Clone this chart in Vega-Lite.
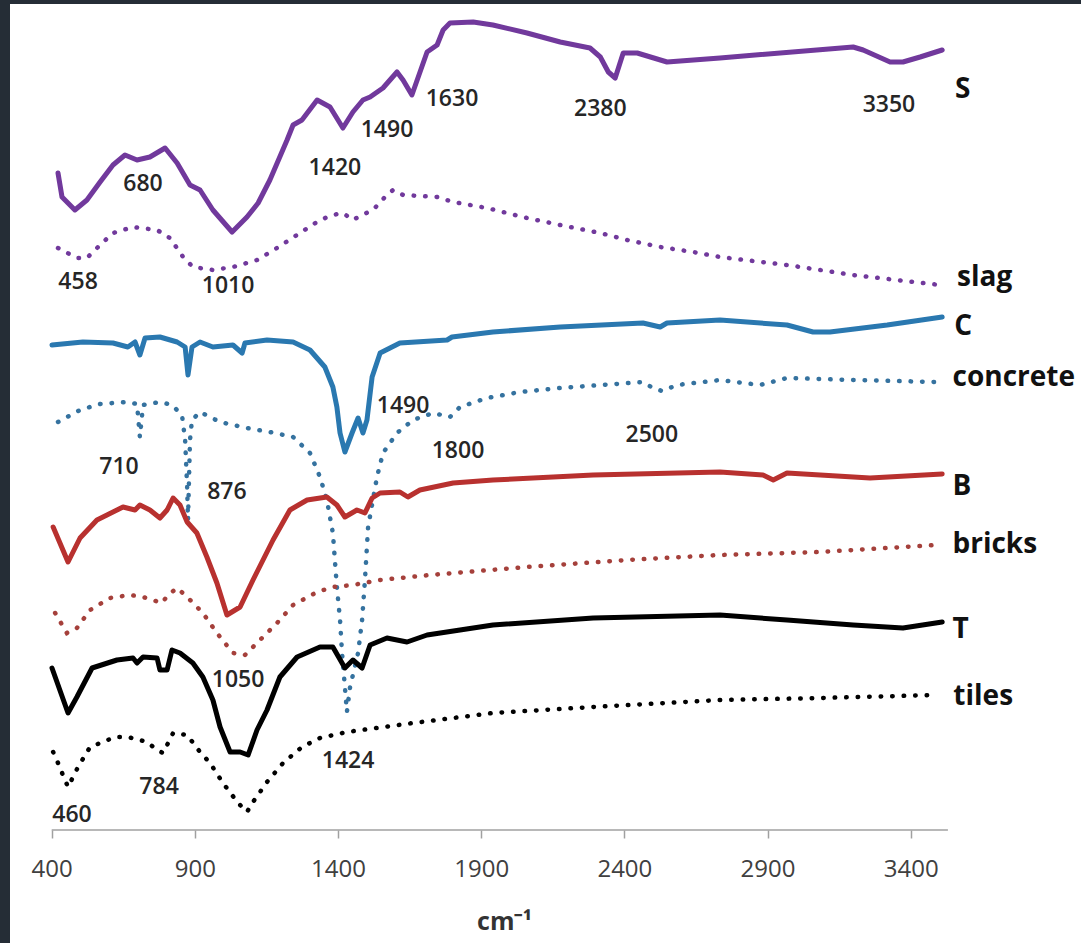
{
  "$schema": "https://vega.github.io/schema/vega-lite/v6.json",
  "width": 1081,
  "height": 943,
  "autosize": {"type": "fit", "contains": "padding"},
  "padding": {"left": 10, "top": 4, "right": 0, "bottom": 0},
  "background": "#252d36",
  "config": {"view": {"fill": "white", "stroke": null}, "font": "Open Sans"},
  "datasets": {
    "axisline": [{"x": 400, "x2": 3530, "y": 113}],
    "spectra": [
      {"s":"S","x":422,"y":770},{"s":"S","x":436,"y":746},{"s":"S","x":481,"y":733},{"s":"S","x":523,"y":743},{"s":"S","x":569,"y":761},{"s":"S","x":614,"y":778},{"s":"S","x":656,"y":788},{"s":"S","x":698,"y":783},{"s":"S","x":743,"y":786},{"s":"S","x":796,"y":795},{"s":"S","x":838,"y":780},{"s":"S","x":883,"y":758},{"s":"S","x":918,"y":753},{"s":"S","x":963,"y":733},{"s":"S","x":1030,"y":711},{"s":"S","x":1082,"y":726},{"s":"S","x":1121,"y":740},{"s":"S","x":1162,"y":763},{"s":"S","x":1222,"y":803},{"s":"S","x":1243,"y":818},{"s":"S","x":1274,"y":823},{"s":"S","x":1327,"y":843},{"s":"S","x":1372,"y":836},{"s":"S","x":1417,"y":815},{"s":"S","x":1452,"y":831},{"s":"S","x":1487,"y":843},{"s":"S","x":1512,"y":846},{"s":"S","x":1557,"y":855},{"s":"S","x":1606,"y":871},{"s":"S","x":1627,"y":863},{"s":"S","x":1658,"y":848},{"s":"S","x":1711,"y":891},{"s":"S","x":1746,"y":898},{"s":"S","x":1767,"y":913},{"s":"S","x":1791,"y":920},{"s":"S","x":1872,"y":921},{"s":"S","x":1941,"y":918},{"s":"S","x":2060,"y":910},{"s":"S","x":2176,"y":901},{"s":"S","x":2280,"y":895},{"s":"S","x":2316,"y":886},{"s":"S","x":2344,"y":871},{"s":"S","x":2368,"y":865},{"s":"S","x":2396,"y":890},{"s":"S","x":2445,"y":890},{"s":"S","x":2549,"y":881},{"s":"S","x":2734,"y":885},{"s":"S","x":3199,"y":896},{"s":"S","x":3234,"y":893},{"s":"S","x":3328,"y":881},{"s":"S","x":3373,"y":881},{"s":"S","x":3433,"y":886},{"s":"S","x":3510,"y":893},
      {"s":"slag","x":422,"y":695},{"s":"slag","x":488,"y":685},{"s":"slag","x":523,"y":685},{"s":"slag","x":569,"y":698},{"s":"slag","x":614,"y":710},{"s":"slag","x":684,"y":716},{"s":"slag","x":768,"y":713},{"s":"slag","x":813,"y":705},{"s":"slag","x":859,"y":686},{"s":"slag","x":893,"y":676},{"s":"slag","x":963,"y":673},{"s":"slag","x":1033,"y":676},{"s":"slag","x":1117,"y":683},{"s":"slag","x":1187,"y":695},{"s":"slag","x":1267,"y":710},{"s":"slag","x":1337,"y":723},{"s":"slag","x":1382,"y":728},{"s":"slag","x":1417,"y":730},{"s":"slag","x":1452,"y":723},{"s":"slag","x":1477,"y":727},{"s":"slag","x":1522,"y":733},{"s":"slag","x":1564,"y":746},{"s":"slag","x":1592,"y":753},{"s":"slag","x":1627,"y":748},{"s":"slag","x":1746,"y":746},{"s":"slag","x":1802,"y":741},{"s":"slag","x":1920,"y":735},{"s":"slag","x":2060,"y":725},{"s":"slag","x":2176,"y":718},{"s":"slag","x":2316,"y":710},{"s":"slag","x":2410,"y":703},{"s":"slag","x":2525,"y":696},{"s":"slag","x":2640,"y":691},{"s":"slag","x":2734,"y":686},{"s":"slag","x":2968,"y":678},{"s":"slag","x":3199,"y":668},{"s":"slag","x":3503,"y":658},
      {"s":"C","x":401,"y":598},{"s":"C","x":509,"y":601},{"s":"C","x":614,"y":600},{"s":"C","x":666,"y":596},{"s":"C","x":691,"y":601},{"s":"C","x":708,"y":588},{"s":"C","x":726,"y":605},{"s":"C","x":778,"y":606},{"s":"C","x":838,"y":601},{"s":"C","x":866,"y":596},{"s":"C","x":876,"y":568},{"s":"C","x":890,"y":596},{"s":"C","x":918,"y":601},{"s":"C","x":963,"y":596},{"s":"C","x":1033,"y":598},{"s":"C","x":1065,"y":590},{"s":"C","x":1075,"y":600},{"s":"C","x":1152,"y":603},{"s":"C","x":1243,"y":601},{"s":"C","x":1302,"y":593},{"s":"C","x":1354,"y":576},{"s":"C","x":1382,"y":556},{"s":"C","x":1396,"y":536},{"s":"C","x":1407,"y":510},{"s":"C","x":1424,"y":491},{"s":"C","x":1449,"y":510},{"s":"C","x":1470,"y":525},{"s":"C","x":1487,"y":510},{"s":"C","x":1501,"y":523},{"s":"C","x":1519,"y":566},{"s":"C","x":1547,"y":590},{"s":"C","x":1616,"y":600},{"s":"C","x":1781,"y":603},{"s":"C","x":1798,"y":606},{"s":"C","x":1941,"y":611},{"s":"C","x":2176,"y":616},{"s":"C","x":2465,"y":620},{"s":"C","x":2525,"y":616},{"s":"C","x":2549,"y":620},{"s":"C","x":2734,"y":623},{"s":"C","x":2968,"y":618},{"s":"C","x":3059,"y":611},{"s":"C","x":3118,"y":611},{"s":"C","x":3318,"y":618},{"s":"C","x":3510,"y":626},
      {"s":"concrete","x":422,"y":521},{"s":"concrete","x":499,"y":533},{"s":"concrete","x":569,"y":539},{"s":"concrete","x":663,"y":541},{"s":"concrete","x":698,"y":539},{"s":"concrete","x":708,"y":506},{"s":"concrete","x":719,"y":538},{"s":"concrete","x":778,"y":541},{"s":"concrete","x":820,"y":538},{"s":"concrete","x":855,"y":528},{"s":"concrete","x":866,"y":503},{"s":"concrete","x":873,"y":456},{"s":"concrete","x":876,"y":423},{"s":"concrete","x":883,"y":503},{"s":"concrete","x":890,"y":523},{"s":"concrete","x":918,"y":531},{"s":"concrete","x":988,"y":521},{"s":"concrete","x":1082,"y":515},{"s":"concrete","x":1162,"y":511},{"s":"concrete","x":1243,"y":506},{"s":"concrete","x":1302,"y":490},{"s":"concrete","x":1337,"y":466},{"s":"concrete","x":1361,"y":443},{"s":"concrete","x":1382,"y":410},{"s":"concrete","x":1396,"y":356},{"s":"concrete","x":1407,"y":323},{"s":"concrete","x":1414,"y":290},{"s":"concrete","x":1424,"y":256},{"s":"concrete","x":1431,"y":231},{"s":"concrete","x":1442,"y":256},{"s":"concrete","x":1470,"y":290},{"s":"concrete","x":1484,"y":323},{"s":"concrete","x":1494,"y":363},{"s":"concrete","x":1505,"y":416},{"s":"concrete","x":1536,"y":466},{"s":"concrete","x":1557,"y":490},{"s":"concrete","x":1606,"y":510},{"s":"concrete","x":1662,"y":523},{"s":"concrete","x":1732,"y":530},{"s":"concrete","x":1791,"y":526},{"s":"concrete","x":1826,"y":536},{"s":"concrete","x":1920,"y":545},{"s":"concrete","x":2036,"y":551},{"s":"concrete","x":2176,"y":555},{"s":"concrete","x":2465,"y":561},{"s":"concrete","x":2500,"y":555},{"s":"concrete","x":2532,"y":552},{"s":"concrete","x":2584,"y":558},{"s":"concrete","x":2734,"y":563},{"s":"concrete","x":2874,"y":558},{"s":"concrete","x":2968,"y":565},{"s":"concrete","x":3199,"y":563},{"s":"concrete","x":3492,"y":561},
      {"s":"B","x":405,"y":416},{"s":"B","x":457,"y":381},{"s":"B","x":499,"y":405},{"s":"B","x":558,"y":423},{"s":"B","x":649,"y":436},{"s":"B","x":691,"y":433},{"s":"B","x":708,"y":438},{"s":"B","x":743,"y":433},{"s":"B","x":778,"y":425},{"s":"B","x":803,"y":433},{"s":"B","x":824,"y":445},{"s":"B","x":848,"y":438},{"s":"B","x":873,"y":421},{"s":"B","x":907,"y":410},{"s":"B","x":942,"y":386},{"s":"B","x":977,"y":360},{"s":"B","x":1012,"y":328},{"s":"B","x":1058,"y":336},{"s":"B","x":1103,"y":363},{"s":"B","x":1173,"y":403},{"s":"B","x":1232,"y":433},{"s":"B","x":1292,"y":443},{"s":"B","x":1361,"y":446},{"s":"B","x":1396,"y":438},{"s":"B","x":1424,"y":426},{"s":"B","x":1466,"y":433},{"s":"B","x":1494,"y":430},{"s":"B","x":1519,"y":445},{"s":"B","x":1547,"y":450},{"s":"B","x":1616,"y":451},{"s":"B","x":1644,"y":446},{"s":"B","x":1686,"y":453},{"s":"B","x":1802,"y":460},{"s":"B","x":1941,"y":463},{"s":"B","x":2291,"y":468},{"s":"B","x":2734,"y":471},{"s":"B","x":2884,"y":468},{"s":"B","x":2920,"y":463},{"s":"B","x":2968,"y":470},{"s":"B","x":3258,"y":465},{"s":"B","x":3510,"y":469},
      {"s":"bricks","x":412,"y":330},{"s":"bricks","x":453,"y":310},{"s":"bricks","x":488,"y":315},{"s":"bricks","x":534,"y":333},{"s":"bricks","x":604,"y":345},{"s":"bricks","x":673,"y":348},{"s":"bricks","x":719,"y":346},{"s":"bricks","x":785,"y":340},{"s":"bricks","x":806,"y":348},{"s":"bricks","x":838,"y":355},{"s":"bricks","x":873,"y":346},{"s":"bricks","x":928,"y":330},{"s":"bricks","x":977,"y":310},{"s":"bricks","x":1033,"y":290},{"s":"bricks","x":1075,"y":288},{"s":"bricks","x":1117,"y":300},{"s":"bricks","x":1187,"y":320},{"s":"bricks","x":1243,"y":338},{"s":"bricks","x":1327,"y":351},{"s":"bricks","x":1382,"y":356},{"s":"bricks","x":1452,"y":358},{"s":"bricks","x":1547,"y":363},{"s":"bricks","x":1721,"y":368},{"s":"bricks","x":2060,"y":376},{"s":"bricks","x":2410,"y":383},{"s":"bricks","x":2734,"y":388},{"s":"bricks","x":3083,"y":391},{"s":"bricks","x":3492,"y":398},
      {"s":"T","x":401,"y":275},{"s":"T","x":457,"y":230},{"s":"T","x":488,"y":246},{"s":"T","x":541,"y":275},{"s":"T","x":628,"y":283},{"s":"T","x":684,"y":285},{"s":"T","x":698,"y":280},{"s":"T","x":719,"y":286},{"s":"T","x":768,"y":285},{"s":"T","x":778,"y":273},{"s":"T","x":803,"y":273},{"s":"T","x":820,"y":293},{"s":"T","x":848,"y":290},{"s":"T","x":893,"y":280},{"s":"T","x":928,"y":266},{"s":"T","x":963,"y":243},{"s":"T","x":988,"y":216},{"s":"T","x":1023,"y":191},{"s":"T","x":1058,"y":191},{"s":"T","x":1086,"y":188},{"s":"T","x":1117,"y":213},{"s":"T","x":1152,"y":233},{"s":"T","x":1197,"y":266},{"s":"T","x":1257,"y":286},{"s":"T","x":1337,"y":296},{"s":"T","x":1382,"y":296},{"s":"T","x":1424,"y":275},{"s":"T","x":1452,"y":283},{"s":"T","x":1484,"y":275},{"s":"T","x":1512,"y":298},{"s":"T","x":1571,"y":305},{"s":"T","x":1641,"y":301},{"s":"T","x":1711,"y":308},{"s":"T","x":1941,"y":318},{"s":"T","x":2291,"y":325},{"s":"T","x":2734,"y":328},{"s":"T","x":2968,"y":323},{"s":"T","x":3199,"y":318},{"s":"T","x":3373,"y":315},{"s":"T","x":3510,"y":321},
      {"s":"tiles","x":405,"y":191},{"s":"tiles","x":422,"y":180},{"s":"tiles","x":439,"y":168},{"s":"tiles","x":457,"y":156},{"s":"tiles","x":492,"y":176},{"s":"tiles","x":534,"y":196},{"s":"tiles","x":579,"y":201},{"s":"tiles","x":621,"y":206},{"s":"tiles","x":666,"y":206},{"s":"tiles","x":733,"y":201},{"s":"tiles","x":768,"y":193},{"s":"tiles","x":789,"y":190},{"s":"tiles","x":824,"y":210},{"s":"tiles","x":873,"y":208},{"s":"tiles","x":918,"y":191},{"s":"tiles","x":953,"y":180},{"s":"tiles","x":998,"y":160},{"s":"tiles","x":1051,"y":140},{"s":"tiles","x":1082,"y":131},{"s":"tiles","x":1103,"y":141},{"s":"tiles","x":1152,"y":161},{"s":"tiles","x":1208,"y":180},{"s":"tiles","x":1274,"y":196},{"s":"tiles","x":1337,"y":205},{"s":"tiles","x":1431,"y":211},{"s":"tiles","x":1662,"y":220},{"s":"tiles","x":1941,"y":230},{"s":"tiles","x":2291,"y":236},{"s":"tiles","x":2734,"y":243},{"s":"tiles","x":3083,"y":245},{"s":"tiles","x":3492,"y":248}
    ],
    "peaks": [
      {"t":"680","x":719,"y":759},{"t":"458","x":492,"y":661},{"t":"1010","x":1016,"y":657},{"t":"1420","x":1389,"y":775},{"t":"1490","x":1571,"y":813},{"t":"1630","x":1798,"y":844},{"t":"2380","x":2316,"y":834},{"t":"3350","x":3324,"y":838},
      {"t":"710","x":635,"y":476},{"t":"876","x":1012,"y":451},{"t":"1490","x":1627,"y":537},{"t":"1800","x":1819,"y":492},{"t":"2500","x":2496,"y":508},
      {"t":"1050","x":1051,"y":263},{"t":"1424","x":1435,"y":182},{"t":"784","x":775,"y":156},{"t":"460","x":471,"y":128}
    ],
    "names": [
      {"t":"S","x":3555,"y":853},{"t":"slag","x":3562,"y":665},{"t":"C","x":3552,"y":616},{"t":"concrete","x":3546,"y":565},
      {"t":"B","x":3546,"y":456},{"t":"bricks","x":3546,"y":398},{"t":"T","x":3546,"y":313},{"t":"tiles","x":3549,"y":246}
    ]
  },
  "encoding": {
    "x": {
      "field": "x", "type": "quantitative",
      "scale": {"domain": [254.36, 3994.8], "nice": false, "zero": false},
      "axis": {
        "values": [400, 900, 1400, 1900, 2400, 2900, 3400], "format": "d",
        "offset": -113, "domain": false, "grid": false,
        "tickSize": 8, "tickColor": "#a0a0a0", "tickWidth": 1.5,
        "labelFontSize": 24, "labelColor": "#404040", "labelPadding": 19, "labelFont": "Open Sans",
        "labelOverlap": false, "labelFlush": false,
        "title": "cm⁻¹", "titleFontSize": 25, "titleFontWeight": "bold", "titleColor": "#333333", "titleFont": "Open Sans",
        "titleX": 494, "titleY": 99, "titleBaseline": "alphabetic", "titleAlign": "center", "titleAnchor": null
      }
    },
    "y": {"field": "y", "type": "quantitative", "scale": {"domain": [0, 939], "nice": false, "zero": false}, "axis": null}
  },
  "layer": [
    {
      "data": {"name": "axisline"},
      "mark": {"type": "rule", "color": "#a0a0a0", "strokeWidth": 1.5},
      "encoding": {"x2": {"field": "x2"}}
    },
    {
      "data": {"name": "spectra"},
      "transform": [{"filter": {"field": "s", "oneOf": ["slag", "concrete", "bricks", "tiles"]}}],
      "mark": {"type": "line", "strokeWidth": 4.5, "strokeDash": [0.5, 11], "strokeCap": "round"},
      "encoding": {
        "color": {"field": "s", "type": "nominal", "legend": null,
          "scale": {"domain": ["S", "slag", "C", "concrete", "B", "bricks", "T", "tiles"],
                    "range": ["#71399c", "#71399c", "#2a78b0", "#35729f", "#b8312f", "#a5403b", "#000000", "#000000"]}}
      }
    },
    {
      "data": {"name": "spectra"},
      "transform": [{"filter": {"field": "s", "oneOf": ["S", "C", "B", "T"]}}],
      "mark": {"type": "line", "strokeWidth": 5, "strokeJoin": "round", "strokeCap": "round"},
      "encoding": {
        "color": {"field": "s", "type": "nominal", "legend": null,
          "scale": {"domain": ["S", "slag", "C", "concrete", "B", "bricks", "T", "tiles"],
                    "range": ["#71399c", "#71399c", "#2a78b0", "#35729f", "#b8312f", "#a5403b", "#000000", "#000000"]}}
      }
    },
    {
      "data": {"name": "peaks"},
      "mark": {"type": "text", "fontSize": 23, "fontWeight": 600, "color": "#262626", "align": "center", "baseline": "middle", "font": "Open Sans"},
      "encoding": {"text": {"field": "t"}}
    },
    {
      "data": {"name": "names"},
      "mark": {"type": "text", "fontSize": 28, "fontWeight": "bold", "color": "#111111", "align": "left", "baseline": "middle", "font": "Open Sans"},
      "encoding": {"text": {"field": "t"}}
    }
  ]
}
